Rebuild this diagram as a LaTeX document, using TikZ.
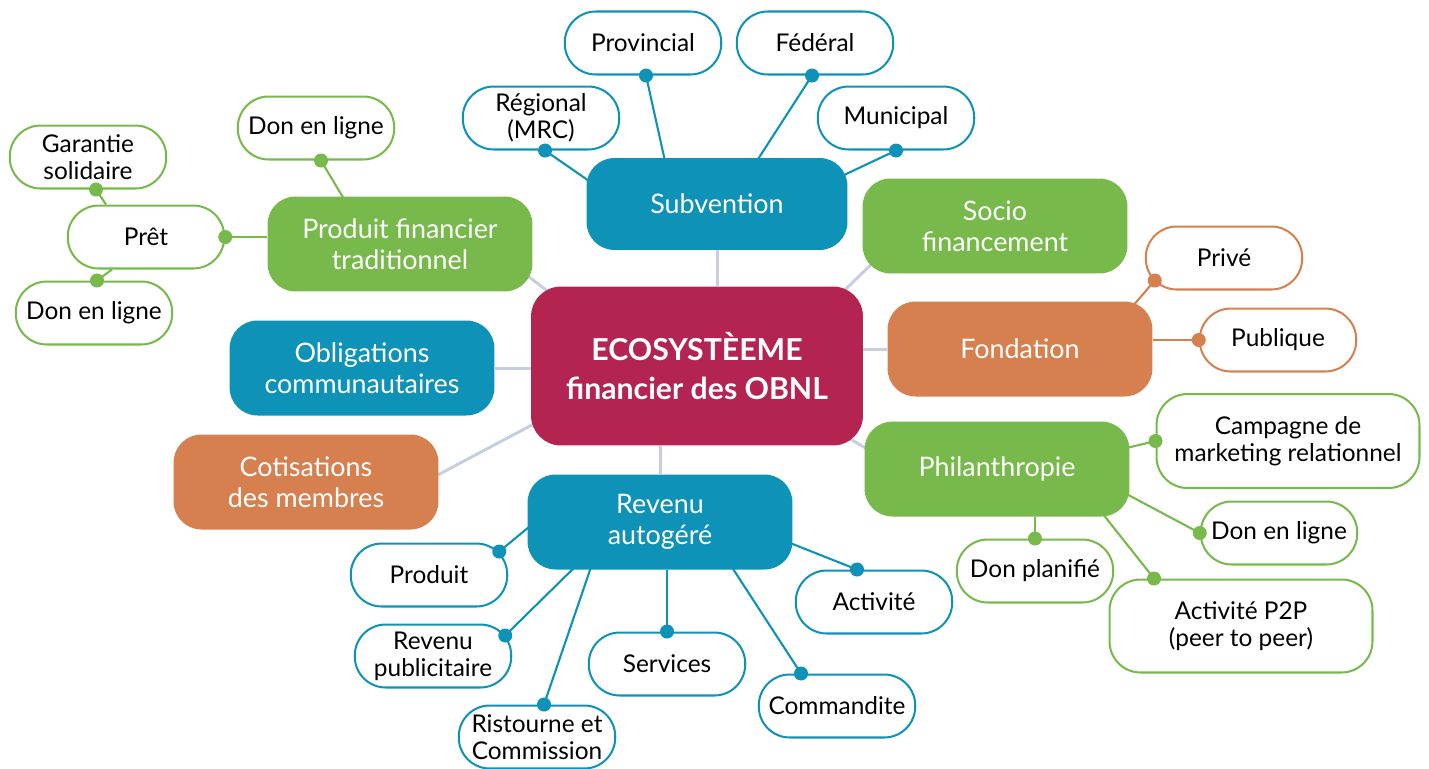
\documentclass[tikz,border=0pt]{standalone}
\usepackage{fontspec}
\setmainfont{Lato}
\usetikzlibrary{calc,backgrounds}

\definecolor{hubblue}{HTML}{0E92B8}
\definecolor{hubgreen}{HTML}{77B94A}
\definecolor{huborange}{HTML}{D6804F}
\definecolor{hubred}{HTML}{B32450}
\definecolor{spokegray}{HTML}{C6CEE0}

\tikzset{
  core/.style={rounded corners=0.6cm, fill=hubred, text=white, align=center,
    minimum width=6.64cm, minimum height=3.18cm, font=\bfseries\fontsize{17.2}{22.7}\selectfont},
  hub/.style={rounded corners=0.56cm, text=white, align=center,
    minimum width=5.3cm, minimum height=1.9cm, font=\fontsize{15.3}{17.5}\selectfont},
  leaf/.style={draw, line width=1.15pt, rounded corners=0.62cm, align=center, text=black,
    minimum width=3.13cm, minimum height=1.26cm, font=\fontsize{13.9}{15.5}\selectfont},
  spokeline/.style={spokegray, line width=1.7pt},
  link/.style={line width=1.2pt},
  dot/.style={circle, fill, inner sep=0pt, minimum size=0.28cm},
}

\begin{document}
\begin{tikzpicture}[x=0.02cm, y=-0.02cm]
    \useasboundingbox (0,0) rectangle (1429,768);

    \node[core] (eco) at (697,366) {ECOSYSTÈEME\\financier des OBNL};

    \node[hub, fill=hubblue, minimum width=5.22cm, minimum height=1.84cm] (sub) at (717,204) {Subvention};
    \node[hub, fill=hubgreen] (pft) at (400,244) {Produit financier\\traditionnel};
    \node[hub, fill=hubgreen] (soc) at (995,226) {Socio\\financement};
    \node[hub, fill=hubblue] (obl) at (362,368) {Obligations\\communautaires};
    \node[hub, fill=huborange] (fon) at (1020,349) {Fondation};
    \node[hub, fill=huborange] (cot) at (306,482) {Cotisations\\des membres};
    \node[hub, fill=hubgreen] (phi) at (997,469) {Philanthropie};
    \node[hub, fill=hubblue] (rev) at (660,522) {Revenu\\autogéré};

    \node[leaf, draw=hubblue] (reg) at (541,118) {Régional\\(MRC)};
    \node[leaf, draw=hubblue] (prov) at (643,43) {Provincial};
    \node[leaf, draw=hubblue] (fed) at (815,43) {Fédéral};
    \node[leaf, draw=hubblue] (mun) at (896,118) {Municipal};

    \node[leaf, draw=hubgreen] (don1) at (316,128) {Don en ligne};
    \node[leaf, draw=hubgreen] (pret) at (146,237) {Prêt};
    \node[leaf, draw=hubgreen] (gar) at (88,157) {Garantie\\solidaire};
    \node[leaf, draw=hubgreen] (don2) at (94,313) {Don en ligne};

    \node[leaf, draw=huborange] (prive) at (1224,258) {Privé};
    \node[leaf, draw=huborange] (pub) at (1278,340) {Publique};

    \node[leaf, draw=hubgreen, minimum width=5.26cm, minimum height=1.88cm] (camp) at (1288,441) {Campagne de\\marketing relationnel};
    \node[leaf, draw=hubgreen] (don3) at (1279,533) {Don en ligne};
    \node[leaf, draw=hubgreen] (plan) at (1035,571) {Don planifié};
    \node[leaf, draw=hubgreen, minimum width=5.26cm, minimum height=1.86cm] (p2p) at (1241,626) {Activité P2P\\(peer to peer)};

    \node[leaf, draw=hubblue] (prod) at (429,575) {Produit};
    \node[leaf, draw=hubblue] (rpub) at (433,656) {Revenu\\publicitaire};
    \node[leaf, draw=hubblue] (rist) at (537,737) {Ristourne et\\Commission};
    \node[leaf, draw=hubblue] (serv) at (667,664) {Services};
    \node[leaf, draw=hubblue] (comm) at (837,706) {Commandite};
    \node[leaf, draw=hubblue] (act) at (874,602) {Activité};

    \begin{scope}[on background layer]
        % spokes around the core
        \draw[spokeline] (sub.south) -- (sub.south |- eco.north);
        \draw[spokeline] (rev.north) -- (rev.north |- eco.south);
        \draw[spokeline] (obl.east) -- (obl.east -| eco.west);
        \draw[spokeline] (fon.west) -- (fon.west -| eco.east);
        \draw[spokeline] ($(pft.south east)+(-30,-35)$) -- ($(eco.north west)+(30,15)$);
        \draw[spokeline] ($(soc.south west)+(20,-20)$) -- ($(eco.north east)+(-25,10)$);
        \draw[spokeline] ($(phi.north west)+(20,38)$) -- ($(eco.south east)+(-20,-11)$);
        \draw[spokeline] ($(cot.east)+(-20,3)$) -- ($(eco.west)+(20,49)$);

        % subvention
        \draw[link, hubblue] ($(reg.south)+(4,0)$) node[dot]{} -- ($(sub.west)+(13,-16)$);
        \draw[link, hubblue] ($(prov.south)+(3,0)$) node[dot]{} -- ($(sub.north)+(-49,17)$);
        \draw[link, hubblue] ($(fed.south)+(-3,0)$) node[dot]{} -- ($(sub.north)+(31,17)$);
        \draw[link, hubblue] (mun.south) node[dot]{} -- ($(sub.east)+(-25,-19)$);

        % produit financier
        \draw[link, hubgreen] ($(don1.south)+(5,0)$) node[dot]{} -- ($(pft.north)+(-50,13)$);
        \draw[link, hubgreen] (pret.east) node[dot]{} -- (pret.east -| pft.west);
        \draw[link, hubgreen] ($(gar.south)+(8,0)$) node[dot]{} -- ($(pret.north)+(-40,0)$);
        \draw[link, hubgreen] ($(don2.north)+(3,0)$) node[dot]{} -- ($(pret.south)+(-34,0)$);

        % fondation
        \draw[link, huborange] ($(prive.south west)+(10,-10)$) node[dot]{} -- ($(fon.north east)+(-33,20)$);
        \draw[link, huborange] (pub.west) node[dot]{} -- (pub.west -| fon.east);

        % philanthropie
        \draw[link, hubgreen] (camp.west) node[dot]{} -- ($(phi.east)+(-20,-17)$);
        \draw[link, hubgreen] (don3.west) node[dot]{} -- ($(phi.south east)+(-30,-37)$);
        \draw[link, hubgreen] (plan.north) node[dot]{} -- (plan.north |- phi.south);
        \draw[link, hubgreen] ($(p2p.north)+(-87,0)$) node[dot]{} -- ($(phi.south east)+(-35,-13)$);

        % revenu autogere
        \draw[link, hubblue] ($(prod.north east)+(-9,9)$) node[dot]{} -- ($(rev.west)+(20,-10)$);
        \draw[link, hubblue] ($(rpub.north east)+(-7,12)$) node[dot]{} -- ($(rev.south west)+(57,-12)$);
        \draw[link, hubblue] ($(rist.north)+(7,0)$) node[dot]{} -- ($(rev.south west)+(67,-12)$);
        \draw[link, hubblue] (serv.north) node[dot]{} -- (serv.north |- rev.south);
        \draw[link, hubblue] ($(comm.north)+(-36,0)$) node[dot]{} -- ($(rev.south east)+(-67,-12)$);
        \draw[link, hubblue] ($(act.north)+(-17,0)$) node[dot]{} -- ($(rev.east)+(-23,13)$);
    \end{scope}
\end{tikzpicture}
\end{document}
